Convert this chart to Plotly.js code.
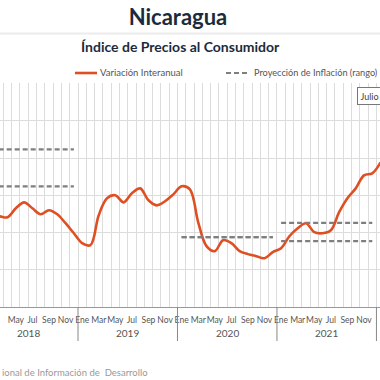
<!DOCTYPE html>
<html>
<head>
<meta charset="utf-8">
<script src="https://cdn.plot.ly/plotly-3.0.1.min.js"></script>
<style>
  html, body { margin: 0; padding: 0; background: #fff; overflow: hidden; }
  #chart { width: 380px; height: 380px; }
</style>
</head>
<body>
<div id="chart"></div>
<script>
// ---- Data ----
const meses = ['Ene','Feb','Mar','Abr','May','Jun','Jul','Ago','Sep','Oct','Nov','Dic'];
const anios = ['2018','2019','2020','2021','2022'];
// Variación interanual, Ene 2018 ... Ene 2022
const variacion = [
  5.00, 4.85, 4.87, 4.82, 5.30, 5.62, 5.30, 4.98, 5.20, 4.98, 4.50, 3.96,
  3.43, 3.32, 4.93, 5.84, 6.00, 5.62, 6.11, 6.37, 5.73, 5.46, 5.68, 6.05,
  6.48, 6.32, 4.55, 3.27, 3.00, 3.59, 3.43, 3.00, 2.84, 2.73, 2.62, 2.95,
  3.16, 3.80, 4.23, 4.50, 4.02, 3.96, 4.12, 5.09, 5.84, 6.37, 7.07, 7.18,
  7.77
];
// Proyección de inflación (rango) por año: 2018, 2019, 2020, 2021
const proySup = [8.46, null, 3.75, 4.52];
const proyInf = [6.48, null, 3.75, 3.54];
const nombres = ['Variación Interanual', 'Proyección de Inflación (rango)'];

// ---- Build traces ----
const xVar = variacion.map((v, i) => i + 0.5);

function rangoXY(vals) {
  const xs = [], ys = [];
  vals.forEach((v, k) => {
    if (v === null) return;
    xs.push(12 * k + 0.5, 12 * k + 11.5, null);
    ys.push(v, v, null);
  });
  return {xs, ys};
}
const sup = rangoXY(proySup);
const inf = rangoXY(proyInf);

const rojo = '#DE5024';
const gris = '#7f7f7f';
const fam = 'Lato, sans-serif';

const traces = [
  {
    x: xVar, y: variacion, type: 'scatter', mode: 'lines',
    name: nombres[0],
    line: {color: rojo, width: 2.6, shape: 'spline', smoothing: 1},
    hoverinfo: 'skip'
  },
  {
    x: sup.xs, y: sup.ys, type: 'scatter', mode: 'lines',
    name: nombres[1],
    line: {color: gris, width: 2.2, dash: '5px,3px'},
    connectgaps: false, hoverinfo: 'skip'
  },
  {
    x: inf.xs, y: inf.ys, type: 'scatter', mode: 'lines',
    name: nombres[1] + ' inferior',
    line: {color: gris, width: 2.2, dash: '5px,3px'},
    connectgaps: false, hoverinfo: 'skip'
  }
];

// tick labels every other month
const tickvals = [], ticktext = [];
for (let i = 0; i < variacion.length; i += 2) {
  tickvals.push(i + 0.5);
  ticktext.push(meses[i % 12]);
}

const W = 380, H = 380, plotTop = 83, plotBottom = 307;
const plotH = plotBottom - plotTop;
const pyToPaper = py => (plotBottom - py) / plotH;
const pxToPaper = px => px / W;

const annotations = [];
anios.forEach((a, k) => {
  annotations.push({
    x: 12 * k + 6, xref: 'x', y: pyToPaper(333), yref: 'paper',
    text: a, showarrow: false, xanchor: 'center', yanchor: 'middle',
    font: {family: fam, size: 10, color: '#555'}
  });
});
annotations.push({
  x: pxToPaper(180), xref: 'paper', y: pyToPaper(47), yref: 'paper',
  text: '<b>Índice de Precios al Consumidor</b>', showarrow: false,
  xanchor: 'center', yanchor: 'middle',
  font: {family: fam, size: 14, color: '#1c2b3c'}
});
annotations.push({
  x: 0, xref: 'paper', y: pyToPaper(372), yref: 'paper',
  text: 'ional de Información de  Desarrollo', showarrow: false,
  xanchor: 'left', yanchor: 'middle',
  font: {family: fam, size: 9.5, color: '#999'}
});
annotations.push({
  x: pxToPaper(357), xref: 'paper', y: pyToPaper(87), yref: 'paper',
  text: 'Julio', showarrow: false, xanchor: 'left', yanchor: 'top',
  bordercolor: '#777', borderwidth: 1, borderpad: 2.5, bgcolor: '#fff',
  font: {family: fam, size: 9, color: '#444'}
});
// legend texts
annotations.push({
  x: pxToPaper(98), xref: 'paper', y: pyToPaper(73), yref: 'paper',
  text: nombres[0], showarrow: false, xanchor: 'left', yanchor: 'middle',
  font: {family: fam, size: 9.5, color: '#555'}
});
annotations.push({
  x: pxToPaper(252), xref: 'paper', y: pyToPaper(73), yref: 'paper',
  text: nombres[1], showarrow: false, xanchor: 'left', yanchor: 'middle',
  font: {family: fam, size: 9.2, color: '#555'}
});

const shapes = [];
for (let k = 1; k < anios.length; k++) {
  shapes.push({
    type: 'line', xref: 'x', yref: 'paper',
    x0: 12 * k, x1: 12 * k, y0: 0, y1: pyToPaper(341),
    line: {color: '#888', width: 1}
  });
}
// title rule
shapes.push({
  type: 'line', xref: 'paper', yref: 'paper',
  x0: 0, x1: 1, y0: pyToPaper(33.5), y1: pyToPaper(33.5),
  line: {color: '#ececec', width: 2}
});
// legend samples
shapes.push({
  type: 'line', xref: 'paper', yref: 'paper',
  x0: pxToPaper(75), x1: pxToPaper(97), y0: pyToPaper(73), y1: pyToPaper(73),
  line: {color: rojo, width: 2.6}
});
shapes.push({
  type: 'line', xref: 'paper', yref: 'paper',
  x0: pxToPaper(226), x1: pxToPaper(250), y0: pyToPaper(73), y1: pyToPaper(73),
  line: {color: gris, width: 2, dash: '5px,3px'}
});

const layout = {
  width: W, height: H,
  margin: {l: 0, r: 0, t: plotTop, b: H - plotBottom, pad: 0},
  paper_bgcolor: '#fff', plot_bgcolor: '#fff',
  font: {family: fam, color: '#555'},
  title: {
    text: '<b>Nicaragua</b>', x: pxToPaper(178), xanchor: 'center',
    y: 1 - 17 / H, yanchor: 'middle', yref: 'container',
    font: {family: fam, size: 22, color: '#1c2b3c'}
  },
  showlegend: false,
  xaxis: {
    range: [2.59, 48.43], fixedrange: true,
    tickmode: 'array', tickvals: tickvals, ticktext: ticktext,
    tickangle: 0, autotickangles: [0], ticklabelstandoff: 5,
    showgrid: false, zeroline: false,
    showline: true, linecolor: '#999', linewidth: 1,
    ticks: '', ticklen: 0,
    tickfont: {family: fam, size: 8.5, color: '#555'},
    minor: {tickmode: 'linear', tick0: 0, dtick: 1, showgrid: true,
            gridcolor: '#dcdcdc', gridwidth: 1, ticks: ''}
  },
  yaxis: {
    range: [0, 12.03], dtick: 2, tick0: 0, fixedrange: true,
    showgrid: true, gridcolor: '#dcdcdc', gridwidth: 1,
    zeroline: false, showticklabels: false, ticks: ''
  },
  annotations: annotations,
  shapes: shapes
};

Plotly.newPlot('chart', traces, layout, {displayModeBar: false, staticPlot: true});
</script>
</body>
</html>
